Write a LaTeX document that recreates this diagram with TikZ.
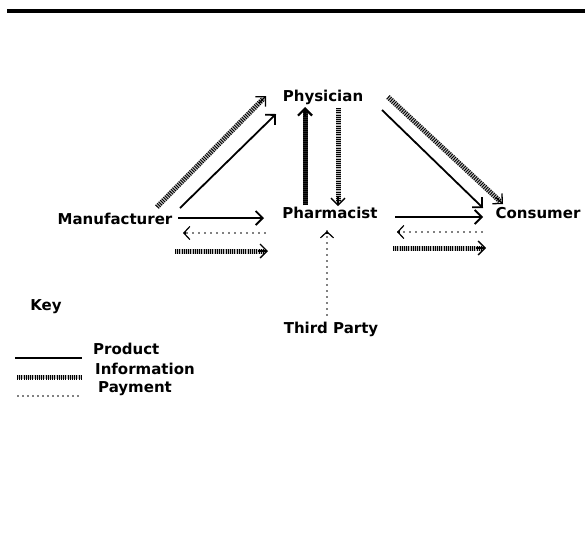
\documentclass[tikz,border=0pt]{standalone}
\usepackage{fontspec}
\setmainfont{DejaVu Sans}
\usetikzlibrary{arrows.meta,calc}
\tikzset{
  lbl/.style={font=\bfseries\fontsize{15}{17}\selectfont, inner sep=0pt},
  prod/.style={line width=1.8pt, draw=black},
  ptip/.style={-{Straight Barb[length=7pt,width=14pt]}},
  itip/.style={line width=1.3pt, -{Straight Barb[length=7pt,width=14pt]}},
  info/.style={line width=5pt, draw=gray!50, postaction={draw=black, line width=5pt, dash pattern=on 0.9pt off 1.3pt}},
  infodark/.style={line width=5pt, draw=gray!30!black, postaction={draw=black, line width=5pt, dash pattern=on 1.2pt off 0.8pt}},
  pay/.style={line width=1.9pt, line cap=round, dash pattern=on 0pt off 6pt},
  paytip/.style={line width=1.2pt, -{Straight Barb[length=6pt,width=13pt]}},
}
\begin{document}
\begin{tikzpicture}[x=1pt,y=-1pt]
\useasboundingbox (0,0) rectangle (585,539);
\draw[line width=3.5pt] (7,11) -- (585,11);

% nodes
\node[lbl] (phys) at (323,97) {Physician};
\node[lbl] (pharm) at (330,213) {Pharmacist};
\node[lbl] (cons) at (538,213) {Consumer};
\node[lbl] (manu) at (115,219) {Manufacturer};
\node[lbl] (third) at (331,329) {Third Party};
\node[lbl] (key) at (46,307) {Key};
\node[lbl, anchor=west] (kprod) at (93,349) {Product};
\node[lbl, anchor=west] (kinfo) at (95,369) {Information};
\node[lbl, anchor=west] (kpay) at (98,389) {Payment};

% connector end points
\coordinate (a1s) at (180,208); \coordinate (a1e) at (276,114);
\coordinate (b1s) at (157,207); \coordinate (b1e) at (266,96);
\coordinate (a2s) at (382,110); \coordinate (a2e) at (483,208);
\coordinate (b2s) at (388,97);  \coordinate (b2e) at (503,204);
\coordinate (a3s) at (178,218); \coordinate (a3e) at (264,218);
\coordinate (c3s) at (265,233); \coordinate (c3e) at (183,233);
\coordinate (b3s) at (175,251); \coordinate (b3e) at (268,251);
\coordinate (a4s) at (395,217); \coordinate (a4e) at (483,217);
\coordinate (c4s) at (482,232); \coordinate (c4e) at (397,232);
\coordinate (b4s) at (393,248); \coordinate (b4e) at (486,248);
\coordinate (u1s) at (305,205); \coordinate (u1e) at (305,107);
\coordinate (d1s) at (338,108); \coordinate (d1e) at (338,206);
\coordinate (t1s) at (327,315); \coordinate (t1e) at (327,231);

% Manufacturer -> Physician
\draw[prod, ptip] (a1s) -- (a1e);
\draw[info] (b1s) -- ($(b1e)!4pt!(b1s)$);
\draw[itip] ($(b1e)!10pt!(b1s)$) -- (b1e);

% Physician -> Consumer
\draw[prod, ptip] (a2s) -- (a2e);
\draw[info] (b2s) -- ($(b2e)!4pt!(b2s)$);
\draw[itip] ($(b2e)!10pt!(b2s)$) -- (b2e);

% Manufacturer <-> Pharmacist
\draw[prod, ptip] (a3s) -- (a3e);
\draw[pay] (c3s) -- (c3e);
\draw[paytip] ($(c3e)!3pt!(c3s)$) -- (c3e);
\draw[info] (b3s) -- ($(b3e)!4pt!(b3s)$);
\draw[itip] ($(b3e)!10pt!(b3s)$) -- (b3e);

% Pharmacist <-> Consumer
\draw[prod, ptip] (a4s) -- (a4e);
\draw[pay] (c4s) -- (c4e);
\draw[paytip] ($(c4e)!3pt!(c4s)$) -- (c4e);
\draw[info] (b4s) -- ($(b4e)!4pt!(b4s)$);
\draw[itip] ($(b4e)!10pt!(b4s)$) -- (b4e);

% Pharmacist <-> Physician
\draw[infodark] (u1s) -- ($(u1e)!4pt!(u1s)$);
\draw[itip, line width=2.2pt] ($(u1e)!10pt!(u1s)$) -- (u1e);
\draw[info] (d1s) -- ($(d1e)!4pt!(d1s)$);
\draw[itip] ($(d1e)!10pt!(d1s)$) -- (d1e);

% Third Party -> Pharmacist
\draw[pay] (t1s) -- (t1e);
\draw[paytip] ($(t1e)!3pt!(t1s)$) -- (t1e);

% key
\draw[line width=2.5pt] (15,358) -- (82,358);
\draw[info, line width=4pt] (17,377) -- (82,377);
\draw[pay, dash pattern=on 0pt off 5pt] (18,396) -- (82,396);
\end{tikzpicture}
\end{document}
